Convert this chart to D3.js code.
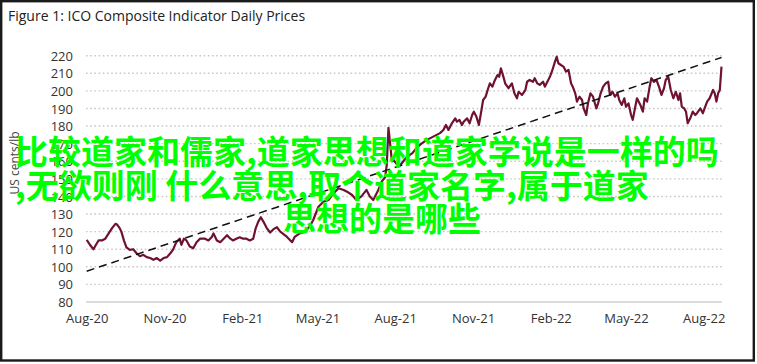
<!DOCTYPE html>
<html><head><meta charset="utf-8">
<script src="https://cdn.jsdelivr.net/npm/d3@7"></script>
<style>
html,body{margin:0;padding:0;background:#fff;}
svg{display:block;}
</style></head>
<body>
<svg id="c" width="757" height="364"></svg>
<script>
const title = "Figure 1: ICO Composite Indicator Daily Prices";
const yAxisTitle = "US cents/lb";
const yTicks = [80,90,100,110,120,130,140,150,160,170,180,190,200,210,220];
const xTickDates = ["2020-08-01","2020-11-01","2021-02-01","2021-05-01","2021-08-01","2021-11-01","2022-02-01","2022-05-01","2022-08-01"];
const xTickLabels = ["Aug-20","Nov-20","Feb-21","May-21","Aug-21","Nov-21","Feb-22","May-22","Aug-22"];
const overlayLines = ["比较道家和儒家,道家思想和道家学说是一样的吗", ",无欲则刚 什么意思,取个道家名字,属于道家", "思想的是哪些"];

const dates = ["2020-08-01","2020-08-05","2020-08-09","2020-08-12","2020-08-15","2020-08-19","2020-08-23","2020-08-27","2020-08-31","2020-09-04","2020-09-06","2020-09-09","2020-09-11","2020-09-14","2020-09-17","2020-09-21","2020-09-25","2020-09-29","2020-10-03","2020-10-07","2020-10-11","2020-10-15","2020-10-19","2020-10-23","2020-10-27","2020-10-31","2020-11-04","2020-11-08","2020-11-11","2020-11-15","2020-11-19","2020-11-21","2020-11-24","2020-11-27","2020-12-01","2020-12-05","2020-12-09","2020-12-13","2020-12-19","2020-12-23","2020-12-27","2020-12-29","2021-01-02","2021-01-06","2021-01-10","2021-01-14","2021-01-18","2021-01-21","2021-01-25","2021-01-29","2021-02-02","2021-02-06","2021-02-10","2021-02-14","2021-02-17","2021-02-20","2021-02-23","2021-02-26","2021-03-02","2021-03-06","2021-03-10","2021-03-14","2021-03-18","2021-03-26","2021-04-01","2021-04-04","2021-04-10","2021-04-16","2021-04-22","2021-04-26","2021-05-02","2021-05-08","2021-05-14","2021-05-20","2021-05-26","2021-06-01","2021-06-05","2021-06-11","2021-06-16","2021-06-22","2021-06-28","2021-07-02","2021-07-06","2021-07-12","2021-07-16","2021-07-20","2021-07-22","2021-07-24","2021-07-26","2021-07-28","2021-07-30","2021-08-05","2021-08-09","2021-08-15","2021-08-21","2021-08-27","2021-09-01","2021-09-07","2021-09-15","2021-09-19","2021-09-23","2021-09-27","2021-09-30","2021-10-03","2021-10-07","2021-10-11","2021-10-13","2021-10-16","2021-10-19","2021-10-21","2021-10-25","2021-10-28","2021-10-31","2021-11-02","2021-11-05","2021-11-08","2021-11-11","2021-11-13","2021-11-16","2021-11-19","2021-11-21","2021-11-24","2021-11-27","2021-11-30","2021-12-02","2021-12-04","2021-12-07","2021-12-09","2021-12-13","2021-12-17","2021-12-20","2021-12-23","2021-12-25","2021-12-29","2022-01-02","2022-01-04","2022-01-07","2022-01-11","2022-01-13","2022-01-16","2022-01-19","2022-01-23","2022-01-25","2022-01-28","2022-01-31","2022-02-03","2022-02-06","2022-02-08","2022-02-10","2022-02-13","2022-02-16","2022-02-19","2022-02-22","2022-02-25","2022-02-27","2022-03-02","2022-03-04","2022-03-07","2022-03-10","2022-03-12","2022-03-15","2022-03-17","2022-03-20","2022-03-23","2022-03-27","2022-03-29","2022-04-01","2022-04-04","2022-04-07","2022-04-10","2022-04-12","2022-04-15","2022-04-18","2022-04-21","2022-04-23","2022-04-26","2022-04-29","2022-05-01","2022-05-04","2022-05-07","2022-05-09","2022-05-12","2022-05-14","2022-05-18","2022-05-21","2022-05-23","2022-05-26","2022-05-29","2022-05-31","2022-06-03","2022-06-06","2022-06-09","2022-06-12","2022-06-15","2022-06-17","2022-06-20","2022-06-23","2022-06-26","2022-06-29","2022-07-02","2022-07-04","2022-07-06","2022-07-09","2022-07-11","2022-07-13","2022-07-16","2022-07-19","2022-07-22","2022-07-24","2022-07-28","2022-07-31","2022-08-02","2022-08-05","2022-08-08","2022-08-12","2022-08-14","2022-08-16","2022-08-18","2022-08-20","2022-08-22"];

const prices = [115.3,112.4,110,112.5,115,115,116,119,122,124.4,124,122,120,115,111,109.6,110,107.7,106,106.8,105.5,105,104,105,103.5,105,105.5,107.7,109.6,114,116,112.5,116,115,111.5,110.5,114,116,116,115,117,119,115,114,116,118,116,115,116,116.8,116,116,115,116,122,125.7,128.2,125.7,122,119.5,121.4,122.5,120,117,114,117,119,120,123,126.6,134,137,138,141.8,144.7,143.7,142.7,140.8,138,140,143.7,140,138,143.7,148.4,151,158,179,170,160,160.7,157,159,162.6,164.5,168,170,172,174,175,176,177.8,180.6,177.8,181.6,184.4,182.5,183.5,180.6,182.5,184.4,181.6,186.3,188.2,185.4,180.6,189,194.8,196.7,201.5,204.3,202.4,206.2,209,208,212.8,208,204.3,201.5,204.3,198.6,195.8,199.5,197.7,200.5,205.2,206.2,205.2,207.2,204.3,203.4,205.2,202.4,205.2,208,211.9,216.6,219.4,215.7,214.7,213.8,211,211.9,204.3,202.4,198.6,193.9,196.7,194.8,190,186.3,192.9,198.6,196.7,190,192.9,198.6,202.4,204.3,205.2,197.7,199.5,196.7,198.6,194.8,192,195.8,191,192.9,186.3,183.5,191,195.8,192,188.2,195.8,193.9,202.4,207.2,205.2,206.2,202.4,197.7,201.5,206.2,208,200.5,195.8,199.5,194.8,198.6,191,190,188.2,181.6,184.4,188.2,186.3,187.3,190,187.3,190,193.9,195.8,200.5,198.6,193.9,198.6,200.5,213.8];

const trendDates = ["2020-08-01","2022-08-22"];
const trendValues = [97.5, 219];

const parse = d3.timeParse("%Y-%m-%d");
const svg = d3.select("#c");
const W = 757, H = 364;

// frame
svg.append("rect").attr("x",1.2).attr("y",1.2).attr("width",752.6).attr("height",359.3)
  .attr("fill","#fff").attr("stroke","#1a1a1a").attr("stroke-width",2.4);

svg.append("text").attr("x",8).attr("y",21).text(title)
  .attr("font-family","'Open Sans', sans-serif").attr("font-size",14).attr("fill","#222");

const x = d3.scaleTime().domain([parse("2020-08-01"), parse("2022-08-22")]).range([86.7, 721.5]);
const y = d3.scaleLinear().domain([80,220]).range([302,55.7]);

// gridlines
const g = svg.append("g");
g.selectAll("line.grid").data(yTicks).join("line")
  .attr("x1",86).attr("x2",722)
  .attr("y1",d=>y(d)).attr("y2",d=>y(d))
  .attr("stroke",d=> d===80 ? "#dcdcdc" : "#c8c8c8")
  .attr("stroke-width",d=> d===80 ? 2 : 1.4)
  .attr("stroke-dasharray",d=> d===80 ? null : "1.6,2.6");

// y axis labels
const yAxis = d3.axisLeft(y).tickValues(yTicks).tickSize(0).tickPadding(0).tickFormat(d3.format("d"));
const ya = svg.append("g").attr("transform","translate(73,0)").call(yAxis);
ya.select(".domain").remove();
ya.selectAll("text").attr("font-family","'Open Sans', sans-serif").attr("font-size",13).attr("fill","#333").attr("dy","0.35em");

// x axis labels
const xAxis = d3.axisBottom(x).tickValues(xTickDates.map(parse)).tickSize(0).tickPadding(0)
  .tickFormat((d,i)=>xTickLabels[i]);
const xa = svg.append("g").attr("transform","translate(0,314)").call(xAxis);
xa.select(".domain").remove();
xa.selectAll("text").attr("font-family","'Open Sans', sans-serif").attr("font-size",13).attr("fill","#333").attr("dy","0.71em");

// y axis title
svg.append("text").attr("transform","translate(19,163) rotate(-90)").attr("text-anchor","middle")
  .attr("font-family","'Open Sans', sans-serif").attr("font-size",12).attr("fill","#444").text(yAxisTitle);

// price line
const series = dates.map((d,i)=>({date:parse(d), v:prices[i]}));
svg.append("path").datum(series)
  .attr("d", d3.line().x(d=>x(d.date)).y(d=>y(d.v)))
  .attr("fill","none").attr("stroke","#6e1230").attr("stroke-width",2.2).attr("stroke-linejoin","round");

// trend line
const trend = trendDates.map((d,i)=>({date:parse(d), v:trendValues[i]}));
svg.append("path").datum(trend)
  .attr("d", d3.line().x(d=>x(d.date)).y(d=>y(d.v)))
  .attr("fill","none").attr("stroke","#111").attr("stroke-width",1.5).attr("stroke-dasharray","8,5");

// overlay text
const ov = [[15,164],[15,197.5],[283,231]];
svg.selectAll("text.ov").data(overlayLines).join("text").attr("class","ov")
  .attr("x",(d,i)=>ov[i][0]).attr("y",(d,i)=>ov[i][1])
  .attr("font-family","'Noto Sans CJK SC', sans-serif").attr("font-weight","bold").attr("font-size",33)
  .attr("fill","#00ff00").text(d=>d);
</script>
</body></html>
